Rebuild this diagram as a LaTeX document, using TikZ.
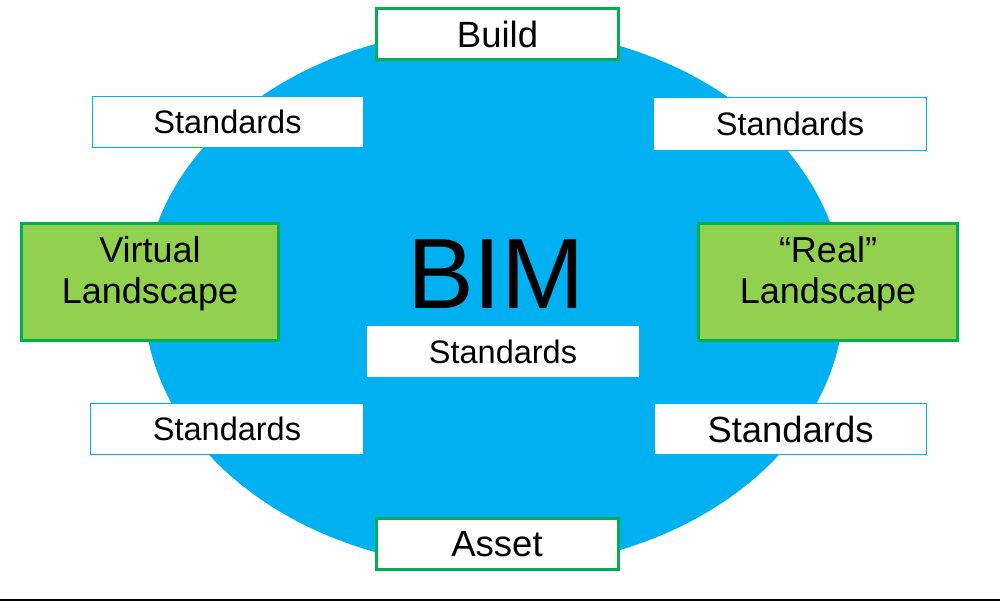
\documentclass[tikz,border=0pt]{standalone}
\usepackage{fontspec}
\setmainfont{Liberation Sans}
\definecolor{bimblue}{HTML}{00B0F0}
\definecolor{leaf}{HTML}{92D050}
\definecolor{edgegreen}{HTML}{00B050}
\begin{document}
\begin{tikzpicture}[x=1pt,y=-1pt,
  stdbox/.style={draw=bimblue, line width=1pt, fill=white, inner sep=0pt,
    font=\fontsize{32.5}{39}\selectfont},
  stagebox/.style={draw=edgegreen, line width=3pt, fill=white, inner sep=0pt,
    minimum width=242pt, minimum height=51pt, font=\fontsize{36.5}{43}\selectfont},
  landbox/.style={draw=edgegreen, line width=3pt, fill=leaf, inner sep=0pt,
    align=center, font=\fontsize{36}{41}\selectfont,
    text height=67pt, text depth=25pt, minimum height=117pt}]
\useasboundingbox (0,0) rectangle (1000,602);
\fill[white] (0,0) rectangle (1000,602);
% central ellipse
\fill[bimblue] (494,298) ellipse [x radius=350, y radius=270];
% title
\node[inner sep=0pt, font=\fontsize{100}{110}\selectfont] (bim) at (496,274.5) {BIM};
% stage boxes
\node[stagebox] (build) at (497.5,34) {Build};
\node[stagebox] (asset) at (497,544) {Asset};
% landscape boxes
\node[landbox, minimum width=257pt] (virtual) at (150,282) {Virtual\\Landscape};
\node[landbox, minimum width=259pt] (real) at (828,282) {“Real”\\Landscape};
% standards boxes
\node[stdbox, minimum width=271pt, minimum height=51pt] (stdtl) at (227.5,122) {Standards};
\node[stdbox, minimum width=273pt, minimum height=53pt] (stdtr) at (790,124) {Standards};
\node[stdbox, draw=none, minimum width=272pt, minimum height=51pt] (stdc) at (503,351.5) {Standards};
\node[stdbox, minimum width=273pt, minimum height=51pt] (stdbl) at (227,429) {Standards};
\node[stdbox, minimum width=272pt, minimum height=51pt,
  font=\fontsize{36.4}{43}\selectfont] (stdbr) at (790.5,429) {Standards};
% bottom rule
\draw[line width=1.5pt] (0,600) -- (1000,600);
\end{tikzpicture}
\end{document}
